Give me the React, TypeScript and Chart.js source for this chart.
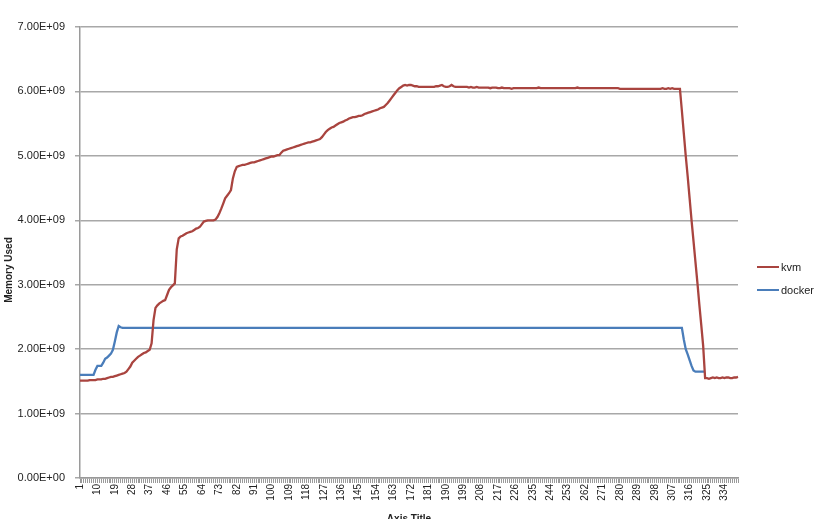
import React, { useEffect, useRef } from 'react';
import { Chart, registerables } from 'chart.js';

Chart.register(...registerables);

// Category axis: sample numbers 1..341
const categories: string[] = Array.from({ length: 341 }, (_, i) => String(i + 1));
const tickEvery = 9;

// Memory used, in units of 1e9 bytes
const kvm: number[] = [
  1.51, 1.51, 1.51, 1.51, 1.51, 1.52, 1.52, 1.52, 1.52, 1.53,
  1.53, 1.53, 1.54, 1.54, 1.55, 1.56, 1.57, 1.57, 1.58, 1.59,
  1.60, 1.61, 1.62, 1.63, 1.65, 1.69, 1.73, 1.79, 1.82, 1.85,
  1.88, 1.90, 1.92, 1.94, 1.95, 1.97, 1.99, 2.09, 2.45, 2.64,
  2.68, 2.71, 2.73, 2.75, 2.76, 2.84, 2.92, 2.96, 2.99, 3.02,
  3.55, 3.72, 3.75, 3.76, 3.78, 3.80, 3.81, 3.82, 3.83, 3.85,
  3.87, 3.88, 3.90, 3.94, 3.98, 3.99, 4.00, 4.00, 4.00, 4.00,
  4.01, 4.05, 4.11, 4.18, 4.26, 4.34, 4.38, 4.42, 4.47, 4.65,
  4.76, 4.83, 4.84, 4.85, 4.86, 4.86, 4.87, 4.88, 4.89, 4.90,
  4.90, 4.91, 4.92, 4.93, 4.94, 4.95, 4.96, 4.97, 4.98, 4.99,
  4.99, 5.00, 5.01, 5.01, 5.05, 5.08, 5.09, 5.10, 5.11, 5.12,
  5.13, 5.14, 5.15, 5.16, 5.17, 5.18, 5.19, 5.20, 5.21, 5.21,
  5.22, 5.23, 5.24, 5.25, 5.26, 5.29, 5.33, 5.37, 5.40, 5.42,
  5.44, 5.45, 5.47, 5.49, 5.51, 5.52, 5.53, 5.55, 5.56, 5.58,
  5.59, 5.60, 5.60, 5.61, 5.62, 5.62, 5.63, 5.65, 5.66, 5.67,
  5.68, 5.69, 5.70, 5.71, 5.72, 5.74, 5.75, 5.76, 5.79, 5.82,
  5.86, 5.90, 5.94, 5.98, 6.02, 6.05, 6.07, 6.09, 6.10, 6.09,
  6.10, 6.10, 6.09, 6.08, 6.08, 6.07, 6.07, 6.07, 6.07, 6.07,
  6.07, 6.07, 6.07, 6.07, 6.08, 6.08, 6.09, 6.10, 6.08, 6.07,
  6.07, 6.08, 6.10, 6.08, 6.07, 6.07, 6.07, 6.07, 6.07, 6.07,
  6.07, 6.06, 6.07, 6.06, 6.06, 6.07, 6.06, 6.06, 6.06, 6.06,
  6.06, 6.06, 6.05, 6.06, 6.06, 6.06, 6.05, 6.05, 6.06, 6.05,
  6.05, 6.05, 6.05, 6.04, 6.05, 6.05, 6.05, 6.05, 6.05, 6.05,
  6.05, 6.05, 6.05, 6.05, 6.05, 6.05, 6.05, 6.06, 6.05, 6.05,
  6.05, 6.05, 6.05, 6.05, 6.05, 6.05, 6.05, 6.05, 6.05, 6.05,
  6.05, 6.05, 6.05, 6.05, 6.05, 6.05, 6.05, 6.06, 6.05, 6.05,
  6.05, 6.05, 6.05, 6.05, 6.05, 6.05, 6.05, 6.05, 6.05, 6.05,
  6.05, 6.05, 6.05, 6.05, 6.05, 6.05, 6.05, 6.05, 6.05, 6.04,
  6.04, 6.04, 6.04, 6.04, 6.04, 6.04, 6.04, 6.04, 6.04, 6.04,
  6.04, 6.04, 6.04, 6.04, 6.04, 6.04, 6.04, 6.04, 6.04, 6.04,
  6.04, 6.05, 6.04, 6.04, 6.05, 6.04, 6.05, 6.04, 6.04, 6.04,
  6.04, 5.70, 5.35, 5.00, 4.68, 4.34, 4.00, 3.68, 3.36, 3.04,
  2.70, 2.38, 2.05, 1.55, 1.55, 1.54, 1.55, 1.56, 1.55, 1.56,
  1.55, 1.55, 1.56, 1.55, 1.56, 1.56, 1.55, 1.55, 1.56, 1.56, 1.57,
];

const docker: (number | null)[] = [
  1.60, 1.60, 1.60, 1.60, 1.60, 1.60, 1.60, 1.60, 1.68, 1.74,
  1.74, 1.74, 1.79, 1.85, 1.87, 1.90, 1.93, 1.99, 2.12, 2.26,
  2.36, 2.34, 2.33, 2.33, 2.33, 2.33, 2.33, 2.33, 2.33, 2.33,
  2.33, 2.33, 2.33, 2.33, 2.33, 2.33, 2.33, 2.33, 2.33, 2.33,
  2.33, 2.33, 2.33, 2.33, 2.33, 2.33, 2.33, 2.33, 2.33, 2.33,
  2.33, 2.33, 2.33, 2.33, 2.33, 2.33, 2.33, 2.33, 2.33, 2.33,
  2.33, 2.33, 2.33, 2.33, 2.33, 2.33, 2.33, 2.33, 2.33, 2.33,
  2.33, 2.33, 2.33, 2.33, 2.33, 2.33, 2.33, 2.33, 2.33, 2.33,
  2.33, 2.33, 2.33, 2.33, 2.33, 2.33, 2.33, 2.33, 2.33, 2.33,
  2.33, 2.33, 2.33, 2.33, 2.33, 2.33, 2.33, 2.33, 2.33, 2.33,
  2.33, 2.33, 2.33, 2.33, 2.33, 2.33, 2.33, 2.33, 2.33, 2.33,
  2.33, 2.33, 2.33, 2.33, 2.33, 2.33, 2.33, 2.33, 2.33, 2.33,
  2.33, 2.33, 2.33, 2.33, 2.33, 2.33, 2.33, 2.33, 2.33, 2.33,
  2.33, 2.33, 2.33, 2.33, 2.33, 2.33, 2.33, 2.33, 2.33, 2.33,
  2.33, 2.33, 2.33, 2.33, 2.33, 2.33, 2.33, 2.33, 2.33, 2.33,
  2.33, 2.33, 2.33, 2.33, 2.33, 2.33, 2.33, 2.33, 2.33, 2.33,
  2.33, 2.33, 2.33, 2.33, 2.33, 2.33, 2.33, 2.33, 2.33, 2.33,
  2.33, 2.33, 2.33, 2.33, 2.33, 2.33, 2.33, 2.33, 2.33, 2.33,
  2.33, 2.33, 2.33, 2.33, 2.33, 2.33, 2.33, 2.33, 2.33, 2.33,
  2.33, 2.33, 2.33, 2.33, 2.33, 2.33, 2.33, 2.33, 2.33, 2.33,
  2.33, 2.33, 2.33, 2.33, 2.33, 2.33, 2.33, 2.33, 2.33, 2.33,
  2.33, 2.33, 2.33, 2.33, 2.33, 2.33, 2.33, 2.33, 2.33, 2.33,
  2.33, 2.33, 2.33, 2.33, 2.33, 2.33, 2.33, 2.33, 2.33, 2.33,
  2.33, 2.33, 2.33, 2.33, 2.33, 2.33, 2.33, 2.33, 2.33, 2.33,
  2.33, 2.33, 2.33, 2.33, 2.33, 2.33, 2.33, 2.33, 2.33, 2.33,
  2.33, 2.33, 2.33, 2.33, 2.33, 2.33, 2.33, 2.33, 2.33, 2.33,
  2.33, 2.33, 2.33, 2.33, 2.33, 2.33, 2.33, 2.33, 2.33, 2.33,
  2.33, 2.33, 2.33, 2.33, 2.33, 2.33, 2.33, 2.33, 2.33, 2.33,
  2.33, 2.33, 2.33, 2.33, 2.33, 2.33, 2.33, 2.33, 2.33, 2.33,
  2.33, 2.33, 2.33, 2.33, 2.33, 2.33, 2.33, 2.33, 2.33, 2.33,
  2.33, 2.33, 2.33, 2.33, 2.33, 2.33, 2.33, 2.33, 2.33, 2.33,
  2.33, 2.33, 2.15, 2.00, 1.92, 1.83, 1.74, 1.67, 1.65, 1.65,
  1.65, 1.65, 1.65, 1.65, null, null, null, null, null, null,
  null, null, null, null, null, null, null, null, null, null, null,
];

const seriesNames = ['kvm', 'docker'];
const seriesColors = ['#A9443F', '#4A7DBA'];
const unitScale = 1e9;

const yMin = 0;
const yMax = 7e9;
const yStep = 1e9;
const yTitleText = 'Memory Used';
const xTitleText = 'Axis Title';

const FONT = "'Liberation Sans', Arial, sans-serif";

function sci(v: number): string {
  if (v === 0) return '0.00E+00';
  const e = Math.floor(Math.log10(Math.abs(v)));
  const m = v / Math.pow(10, e);
  return `${m.toFixed(2)}E+${String(e).padStart(2, '0')}`;
}

// Draws the vertical y-axis title where the reference places it
const yTitlePlugin = {
  id: 'yTitlePlugin',
  afterDraw(chart: any) {
    const ctx = chart.ctx as CanvasRenderingContext2D;
    ctx.save();
    ctx.translate(9, 270);
    ctx.rotate(-Math.PI / 2);
    ctx.font = `bold 10px ${FONT}`;
    ctx.fillStyle = '#222';
    ctx.textAlign = 'center';
    ctx.textBaseline = 'middle';
    ctx.fillText(yTitleText, 0, 0);
    ctx.restore();
  },
};

export default function App() {
  const canvasRef = useRef<HTMLCanvasElement | null>(null);

  useEffect(() => {
    if (!canvasRef.current) return;
    const seriesData = [kvm, docker].map((arr) => arr.map((v) => (v === null ? null : v * unitScale)));
    const chart = new Chart(canvasRef.current, {
      type: 'line',
      data: {
        labels: categories,
        datasets: seriesNames.map((name, k) => ({
          label: name,
          data: seriesData[k],
          borderColor: seriesColors[k],
          backgroundColor: seriesColors[k],
          borderWidth: 2.3,
          pointRadius: 0,
          pointHoverRadius: 0,
          tension: 0,
          spanGaps: false,
        })),
      },
      plugins: [yTitlePlugin],
      options: {
        animation: false,
        responsive: true,
        maintainAspectRatio: false,
        layout: { padding: { top: 27, right: 96, left: 0, bottom: 0 } },
        plugins: {
          legend: { display: false },
          tooltip: { enabled: false },
        },
        scales: {
          x: {
            type: 'category',
            offset: false,
            afterFit: (scale: any) => {
              scale.height = 41;
            },
            border: { display: true, color: '#9A9A9A', width: 1.5 },
            grid: {
              display: true,
              drawOnChartArea: false,
              drawTicks: true,
              tickLength: 5,
              color: '#9A9A9A',
              lineWidth: 1,
            },
            ticks: {
              autoSkip: false,
              maxRotation: 90,
              minRotation: 90,
              padding: 1,
              color: '#222',
              font: { family: FONT, size: 10 },
              callback: (_v: any, index: number) =>
                index % tickEvery === 0 ? categories[index] : '',
            },
            title: {
              display: true,
              text: xTitleText,
              color: '#222',
              font: { family: FONT, size: 10, weight: 'bold' },
              padding: { top: 0, bottom: -6 },
            },
          },
          y: {
            min: yMin,
            max: yMax,
            afterFit: (scale: any) => {
              scale.width = 80;
            },
            border: { display: true, color: '#9A9A9A', width: 1.5 },
            grid: {
              color: '#A8A8A8',
              lineWidth: 1.5,
              drawTicks: true,
              tickLength: 5,
            },
            ticks: {
              stepSize: yStep,
              padding: 10,
              color: '#222',
              font: { family: FONT, size: 11 },
              callback: (v: any) => sci(Number(v)),
            },
            title: { display: false },
          },
        },
      } as any,
    });
    return () => chart.destroy();
  }, []);

  const legendRowStyle = (top: number): React.CSSProperties => ({
    position: 'absolute',
    left: 757,
    top,
    height: 14,
    display: 'flex',
    alignItems: 'center',
    fontFamily: FONT,
    fontSize: 11,
    color: '#222',
    whiteSpace: 'nowrap',
  });

  return (
    <div
      style={{
        position: 'fixed',
        left: 0,
        top: 0,
        width: 834,
        height: 519,
        background: '#fff',
        overflow: 'hidden',
      }}
    >
      <div style={{ position: 'absolute', left: 0, top: 0, width: 834, height: 519 }}>
        <canvas ref={canvasRef} />
      </div>
      {seriesNames.map((name, k) => (
        <div key={name} style={legendRowStyle(260 + k * 23)}>
          <span
            style={{
              display: 'inline-block',
              width: 22,
              height: 2.5,
              background: seriesColors[k],
              marginRight: 2,
            }}
          />
          <span>{name}</span>
        </div>
      ))}
    </div>
  );
}
